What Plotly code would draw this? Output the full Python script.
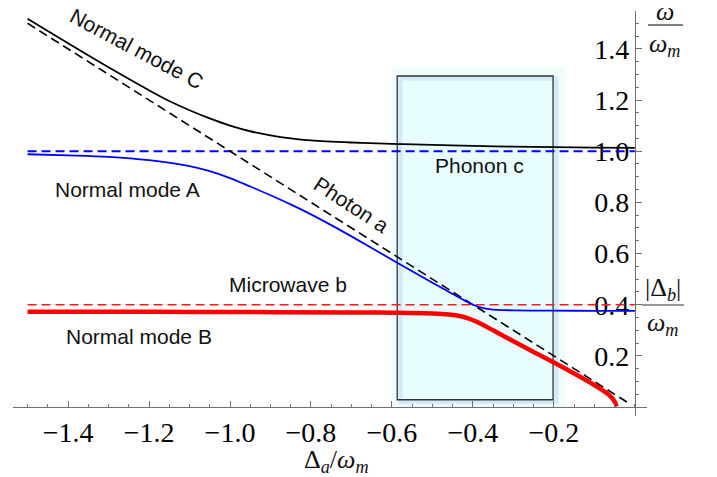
import plotly.graph_objects as go

# ---------------- data ----------------
photon_x = [-1.5, -0.015]
photon_y = [1.5, 0.015]

phonon_x = [-1.5, 0.0]
phonon_y = [1.0, 1.0]

microwave_x = [-1.5, 0.0]
microwave_y = [0.4, 0.4]

modeC_x = [-1.5, -1.4, -1.3, -1.2, -1.15, -1.1, -1.05, -1.0, -0.95, -0.9, -0.85, -0.8,
           -0.7, -0.6, -0.5, -0.4, -0.3, -0.2, -0.1, 0.0]
modeC_y = [1.518, 1.422, 1.328, 1.238, 1.196, 1.160, 1.128, 1.100, 1.078, 1.062, 1.050, 1.042,
           1.034, 1.029, 1.025, 1.021, 1.018, 1.016, 1.014, 1.013]

modeA_x = [-1.5, -1.4, -1.3, -1.2, -1.1, -1.05, -1.0, -0.95, -0.9, -0.85, -0.8, -0.75, -0.7,
           -0.65, -0.6, -0.55, -0.5, -0.45, -0.42, -0.4, -0.38, -0.36, -0.34, -0.3, -0.2, -0.1, 0.0]
modeA_y = [0.988, 0.984, 0.978, 0.965, 0.942, 0.922, 0.895, 0.862, 0.828, 0.792, 0.753, 0.711, 0.667,
           0.622, 0.576, 0.531, 0.486, 0.442, 0.416, 0.400, 0.389, 0.383, 0.380, 0.378, 0.377, 0.376, 0.376]

modeB_x = [-1.5, -1.2, -0.9, -0.7, -0.6, -0.5, -0.46, -0.43, -0.41, -0.39, -0.37, -0.35, -0.3,
           -0.25, -0.2, -0.15, -0.1, -0.08, -0.065, -0.055, -0.049, -0.045]
modeB_y = [0.372, 0.372, 0.371, 0.370, 0.369, 0.366, 0.362, 0.355, 0.346, 0.333, 0.317, 0.300, 0.257,
           0.215, 0.174, 0.131, 0.086, 0.066, 0.049, 0.033, 0.018, 0.002]

x_ticks = [-1.4, -1.2, -1.0, -0.8, -0.6, -0.4, -0.2]
y_ticks = [0.2, 0.4, 0.6, 0.8, 1.0, 1.2, 1.4]

X_RANGE = [-1.536, 0.03]
Y_RANGE = [-0.035, 1.548]

# phonon window (data coords)
box_x = [-0.587, -0.202]
box_y = [0.0285, 1.294]

# ---------------- figure ----------------
# the page body has an 8px margin, so the figure is offset by 8px
OFF = 8
WIN_W, WIN_H = 717, 477
W, H = WIN_W - OFF, WIN_H - OFF
# plot area in window pixels
PL, PR, PT, PB = 13, 647, 11, 416
ML, MT = PL - OFF, PT - OFF
MR, MB = (OFF + W) - PR, (OFF + H) - PB


def px2x(px):
    return (px - PL) / (PR - PL)


def py2y(py):
    return (PB - py) / (PB - PT)


fig = go.Figure()

dash = "9px,5px"
fig.add_trace(go.Scatter(x=phonon_x, y=phonon_y, mode="lines",
                         line=dict(color="#0000ff", width=2, dash=dash)))
fig.add_trace(go.Scatter(x=microwave_x, y=microwave_y, mode="lines",
                         line=dict(color="#ff1a1a", width=1.6, dash=dash)))
fig.add_trace(go.Scatter(x=photon_x, y=photon_y, mode="lines",
                         line=dict(color="#000000", width=1.6, dash=dash)))
fig.add_trace(go.Scatter(x=modeC_x, y=modeC_y, mode="lines", line_shape="spline",
                         line=dict(color="#000000", width=1.8)))
fig.add_trace(go.Scatter(x=modeA_x, y=modeA_y, mode="lines", line_shape="spline",
                         line=dict(color="#0000ff", width=1.8)))
fig.add_trace(go.Scatter(x=modeB_x, y=modeB_y, mode="lines", line_shape="spline",
                         line=dict(color="#ff0000", width=4.5), cliponaxis=False))

# phonon window with glow
shapes = [
    dict(type="rect", xref="x", yref="y", x0=-0.601, x1=-0.173, y0=0.0, y1=1.328,
         fillcolor="#eefcfc", line=dict(width=0), layer="below"),
    dict(type="rect", xref="x", yref="y", x0=box_x[0], x1=box_x[1], y0=box_y[0], y1=box_y[1],
         fillcolor="#e8fdfd", line=dict(width=0), layer="below"),
    dict(type="rect", xref="x", yref="y", x0=-0.579, x1=-0.194, y0=0.02, y1=1.284,
         line=dict(color="rgba(195,218,246,0.6)", width=4), layer="below"),
    dict(type="rect", xref="x", yref="y", x0=box_x[0], x1=box_x[1], y0=box_y[0], y1=box_y[1],
         line=dict(color="#333333", width=1.3), layer="below"),
    # fraction bars of the axis labels
    dict(type="line", xref="paper", yref="paper", x0=px2x(648), x1=px2x(683),
         y0=py2y(25), y1=py2y(25), line=dict(color="#555555", width=1.5)),
    dict(type="line", xref="paper", yref="paper", x0=px2x(642), x1=px2x(684),
         y0=py2y(305), y1=py2y(305), line=dict(color="#777777", width=1.5)),
]

sans = dict(family="Liberation Sans, Arial, sans-serif", size=21, color="#111111")
serif = dict(family="Liberation Serif, Times New Roman, serif", size=26, color="#111111")

annotations = [
    dict(text="Normal mode C", x=-1.232, y=1.400, textangle=28),
    dict(text="Photon a", x=-0.701, y=0.790, textangle=33),
    dict(text="Normal mode A", x=-1.254, y=0.852),
    dict(text="Microwave b", x=-0.857, y=0.478),
    dict(text="Normal mode B", x=-1.225, y=0.275),
    dict(text="Phonon c", x=-0.383, y=0.946),
]
annotations = [dict(a, xref="x", yref="y", showarrow=False, font=sans,
                    xanchor="center", yanchor="middle") for a in annotations]

frac = [
    ("<i>ω</i>", 665, 11),
    ("<i>ω</i><sub><i>m</i></sub>", 665, 45),
    ("|Δ<sub><i>b</i></sub>|", 663, 289),
    ("<i>ω</i><sub><i>m</i></sub>", 663, 324),
]
for t, px, py in frac:
    annotations.append(dict(text=t, xref="paper", yref="paper", x=px2x(px), y=py2y(py),
                            showarrow=False, font=serif, xanchor="center", yanchor="middle"))

annotations.append(dict(text="Δ<sub><i>a</i></sub>/<i>ω</i><sub><i>m</i></sub>",
                        xref="paper", yref="paper", x=px2x(336), y=py2y(461),
                        showarrow=False, font=dict(serif, size=26),
                        xanchor="center", yanchor="middle"))

x0_paper = (0 - X_RANGE[0]) / (X_RANGE[1] - X_RANGE[0])
y0_paper = (0 - Y_RANGE[0]) / (Y_RANGE[1] - Y_RANGE[0])

tickfont = dict(family="Liberation Serif, Times New Roman, serif", size=28, color="#000000")

fig.update_layout(
    width=W, height=H,
    margin=dict(l=ML, r=MR, t=MT, b=MB, pad=0, autoexpand=False),
    paper_bgcolor="white", plot_bgcolor="white",
    showlegend=False,
    shapes=shapes,
    annotations=annotations,
    xaxis=dict(range=X_RANGE, anchor="free", position=y0_paper, side="bottom",
               showgrid=False, zeroline=False, showline=True, linecolor="#707070", linewidth=1.2,
               ticks="inside", ticklen=6, tickcolor="#707070", tickwidth=1,
               tickvals=x_ticks, ticktext=["−" + f"{abs(v):.1f}" for v in x_ticks],
               tickfont=tickfont, automargin=False,
               minor=dict(dtick=0.05, tick0=0, ticks="inside", ticklen=3,
                          tickcolor="#707070", tickwidth=1)),
    yaxis=dict(range=Y_RANGE, anchor="free", position=x0_paper, side="left",
               showgrid=False, zeroline=False, showline=True, linecolor="#707070", linewidth=1.2,
               ticks="inside", ticklen=6, tickcolor="#707070", tickwidth=1,
               tickvals=y_ticks, ticktext=[f"{v:.1f}" for v in y_ticks],
               tickfont=tickfont, automargin=False, layer="below traces",
               minor=dict(dtick=0.05, tick0=0, ticks="inside", ticklen=3,
                          tickcolor="#707070", tickwidth=1)),
)

fig.write_html("out.html")
